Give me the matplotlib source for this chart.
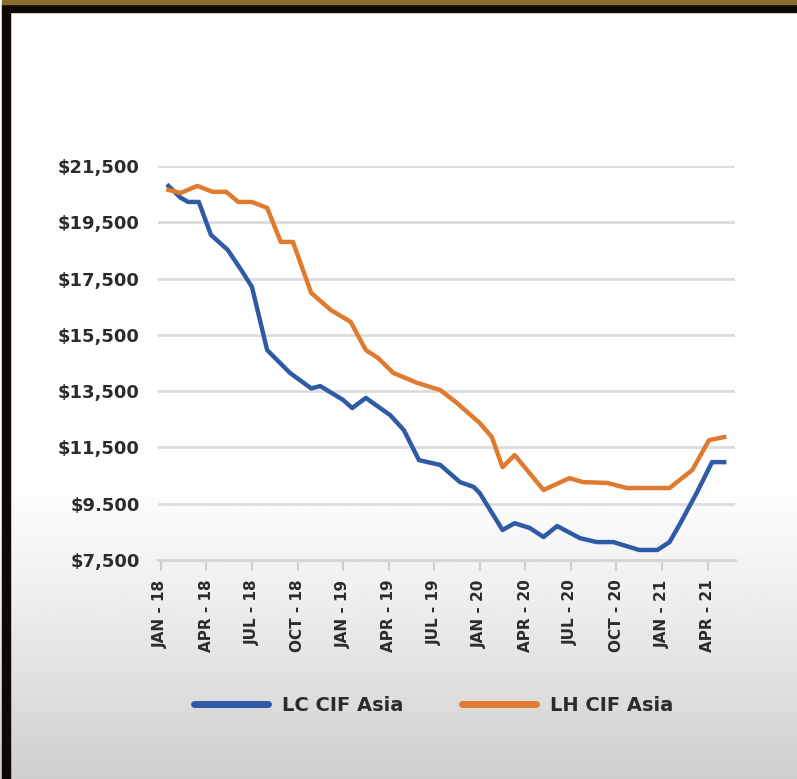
import numpy as np
import matplotlib
matplotlib.use("Agg")
import matplotlib.pyplot as plt
from matplotlib.lines import Line2D
from matplotlib.patches import Rectangle

plt.rcParams['font.family'] = ['DejaVu Sans']
plt.rcParams['font.weight'] = 'bold'

# months since JAN-18, price in USD/t
lc_month = [0.5, 1.3, 1.8, 2.5, 3.3, 4.4, 5.3, 6.0, 7.0, 8.5, 9.9, 10.5, 12.0, 12.6,
            13.5, 15.1, 16.0, 17.0, 18.4, 19.7, 20.6, 21.0, 22.5, 23.3, 24.3, 25.2,
            26.1, 27.6, 28.7, 29.8, 31.5, 32.7, 33.5, 34.2, 35.3, 36.3, 37.1]
lc_price = [20790, 20370, 20220, 20220, 19050, 18520, 17800, 17200, 14960, 14150,
            13600, 13680, 13190, 12900, 13260, 12650, 12120, 11050, 10880, 10270,
            10100, 9880, 8570, 8810, 8640, 8320, 8710, 8280, 8140, 8140, 7860, 7860,
            8140, 8800, 9900, 10980, 10980]

lh_month = [0.5, 1.3, 2.4, 3.4, 4.3, 5.1, 6.0, 7.0, 7.9, 8.7, 9.9, 11.2, 12.5, 13.5,
            14.3, 15.3, 16.9, 18.4, 19.5, 21.0, 21.8, 22.5, 23.3, 25.2, 26.9, 27.8,
            29.4, 30.7, 33.5, 35.0, 36.1, 37.1]
lh_price = [20650, 20540, 20790, 20580, 20580, 20220, 20220, 20010, 18800, 18800,
            16990, 16380, 15960, 14960, 14680, 14150, 13790, 13540, 13080, 12370,
            11870, 10800, 11230, 9990, 10410, 10270, 10240, 10060, 10060, 10700,
            11760, 11870]

tick_labels = ["JAN - 18", "APR - 18", "JUL - 18", "OCT - 18", "JAN - 19", "APR - 19",
               "JUL - 19", "JAN - 20", "APR - 20", "JUL - 20", "OCT - 20", "JAN - 21",
               "APR - 21"]
y_levels = [7500, 9500, 11500, 13500, 15500, 17500, 19500, 21500]
y_labels = ["$7,500", "$9.500", "$11,500", "$13,500", "$15,500", "$17,500",
            "$19,500", "$21,500"]

BLUE = '#2f5ba6'
ORANGE = '#e07a2e'
TEXT = '#2b2b2b'

fig = plt.figure(figsize=(7.97, 7.79), dpi=100)

# soft grey fade toward the bottom of the slide
bg = fig.add_axes([0, 0, 1, 1], zorder=-5)
t = np.linspace(0, 1, 400)
shade = np.where(t < 0.6, 1.0, 1.0 - 0.19 * ((t - 0.6) / 0.4) ** 1.2)
bg.imshow(shade[:, None] * np.ones((1, 10)), cmap='gray', vmin=0, vmax=1,
          aspect='auto', extent=[0, 1, 0, 1], origin='upper')
bg.set_xlim(0, 1)
bg.set_ylim(0, 1)
bg.axis('off')

# dark slide frame on the left and top edges
fig.patches.append(Rectangle((0.003, 0), 0.009, 0.986, transform=fig.transFigure,
                             color='#0d0a05', zorder=10))
fig.patches.append(Rectangle((0.003, 0.985), 0.997, 0.010, transform=fig.transFigure,
                             color='#0d0a05', zorder=10))
fig.patches.append(Rectangle((0.003, 0.995), 0.997, 0.005, transform=fig.transFigure,
                             color='#8a6f2c', zorder=10))

ax = fig.add_axes([0.198, 0.281, 0.724, 0.506])
ax.set_facecolor('none')

ax.plot(lc_month, lc_price, color=BLUE, lw=3.2, solid_joinstyle='round', zorder=3)
ax.plot(lh_month, lh_price, color=ORANGE, lw=3.2, solid_joinstyle='round', zorder=3)

ax.set_xlim(-0.2, 37.8)
ax.set_ylim(7500, 21500)
ax.set_xticks(np.arange(len(tick_labels)) * 3)
ax.set_xticklabels(tick_labels, rotation=90, fontsize=11, fontweight='bold',
                   color=TEXT)
ax.set_yticks(y_levels)
ax.set_yticklabels(y_labels, fontsize=13, fontweight='bold', color=TEXT)

ax.yaxis.grid(True, color='#dcdcdc', lw=2)
ax.set_axisbelow(True)
for side in ['top', 'right', 'left']:
    ax.spines[side].set_visible(False)
ax.spines['bottom'].set_color('#d4d4d4')
ax.spines['bottom'].set_linewidth(2)
ax.spines['bottom'].set_zorder(1)
ax.tick_params(axis='y', length=0, pad=13)
ax.tick_params(axis='x', length=8, width=1.5, color='#cfcfcf', pad=6)

handles = [Line2D([], [], color=BLUE, lw=5, solid_capstyle='round'),
           Line2D([], [], color=ORANGE, lw=5, solid_capstyle='round')]
fig.legend(handles, ["LC CIF Asia", "LH CIF Asia"], loc='center',
           bbox_to_anchor=(0.544, 0.094), ncol=2, frameon=False,
           prop={'size': 14, 'weight': 'bold'}, handlelength=3.8,
           handletextpad=0.75, columnspacing=3.0, labelcolor=TEXT)

fig.savefig('out.png', dpi=100)
